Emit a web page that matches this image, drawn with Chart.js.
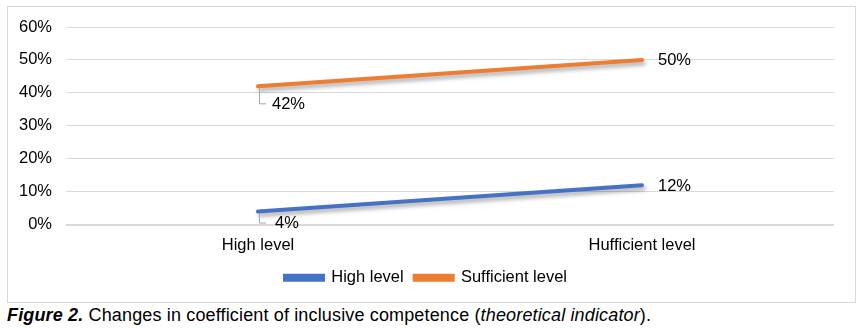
<!DOCTYPE html>
<html lang="en">
<head>
    <meta charset="UTF-8">
    <title>Inclusive competence</title>
    <script src="https://cdn.jsdelivr.net/npm/chart.js"></script>
    <style>
        body {
            margin: 0;
            background: #fff;
            width: 864px;
            height: 332px;
            position: relative;
            overflow: hidden;
        }
        .chart-box {
            position: absolute;
            left: 7px;
            top: 6px;
            width: 849px;
            height: 297px;
            border: 1px solid #d9d9d9;
            box-sizing: border-box;
        }
        .caption {
            position: absolute;
            left: 7px;
            top: 305px;
            font-family: 'Liberation Sans Narrow', 'Arial Narrow', 'Liberation Sans', Arial, sans-serif;
            font-size: 18px;
            letter-spacing: 0.15px;
            color: #000;
            white-space: nowrap;
        }
    </style>
</head>
<body>
    <div class="chart-box">
        <canvas id="lineChart" width="847" height="295"></canvas>
    </div>
    <div class="caption"><b><i>Figure 2.</i></b> Changes in coefficient of inclusive competence (<i>theoretical indicator</i>).</div>
    <script>
        const categories = ['High level', 'Hufficient level'];
        const highLevel = [4, 12];
        const sufficientLevel = [42, 50];
        const yTicks = [0, 10, 20, 30, 40, 50, 60];

        const FONT = "'Liberation Sans', Arial, sans-serif";
        const FSIZE = 16.5;

        // shadow under the lines
        const lineShadow = {
            id: 'lineShadow',
            beforeDatasetDraw(chart) {
                const ctx = chart.ctx;
                ctx.save();
                ctx.shadowColor = 'rgba(0,0,0,0.35)';
                ctx.shadowBlur = 4;
                ctx.shadowOffsetX = 2;
                ctx.shadowOffsetY = 3;
            },
            afterDatasetDraw(chart) {
                chart.ctx.restore();
            }
        };

        // data labels: first point below-right with leader, last point to the right
        const pointLabels = {
            id: 'pointLabels',
            afterDatasetsDraw(chart) {
                const ctx = chart.ctx;
                ctx.save();
                ctx.font = FSIZE + 'px ' + FONT;
                ctx.fillStyle = '#000';
                ctx.textBaseline = 'middle';
                ctx.textAlign = 'left';
                chart.data.datasets.forEach((ds, i) => {
                    const meta = chart.getDatasetMeta(i);
                    meta.data.forEach((pt, j) => {
                        const txt = ds.data[j] + '%';
                        if (j === 0) {
                            const dy = i === 0 ? 11 : 17;
                            ctx.strokeStyle = '#a6a6a6';
                            ctx.lineWidth = 1;
                            ctx.beginPath();
                            ctx.moveTo(pt.x + 1.5, pt.y + 2);
                            ctx.lineTo(pt.x + 1.5, pt.y + dy + 0.5);
                            ctx.lineTo(pt.x + 8, pt.y + dy + 0.5);
                            ctx.stroke();
                            ctx.fillText(txt, pt.x + (i === 0 ? 17 : 14), pt.y + dy + 1);
                        } else {
                            ctx.fillText(txt, pt.x + 16, pt.y + 1);
                        }
                    });
                });
                ctx.restore();
            }
        };

        new Chart(document.getElementById('lineChart'), {
            type: 'line',
            data: {
                labels: categories,
                datasets: [{
                    label: 'High level',
                    data: highLevel,
                    borderColor: '#4472C4',
                    backgroundColor: '#4472C4',
                    borderWidth: 4,
                    borderCapStyle: 'round',
                    pointRadius: 0
                }, {
                    label: 'Sufficient level',
                    data: sufficientLevel,
                    borderColor: '#ED7D31',
                    backgroundColor: '#ED7D31',
                    borderWidth: 4,
                    borderCapStyle: 'round',
                    pointRadius: 0
                }]
            },
            options: {
                responsive: false,
                animation: false,
                layout: {
                    padding: { left: 10, right: 21, top: 20, bottom: 6 }
                },
                plugins: {
                    tooltip: { enabled: false },
                    legend: {
                        position: 'bottom',
                        labels: {
                            boxWidth: 38,
                            boxHeight: 4,
                            padding: 11,
                            color: '#000',
                            font: { family: FONT, size: FSIZE }
                        }
                    }
                },
                scales: {
                    x: {
                        offset: true,
                        grid: { display: false },
                        border: { display: false },
                        ticks: {
                            padding: 3,
                            color: '#000',
                            font: { family: FONT, size: FSIZE }
                        }
                    },
                    y: {
                        min: 0,
                        max: 60,
                        afterFit(scale) {
                            scale.width = 48;
                            scale.paddingTop = 0;
                            scale.paddingBottom = 0;
                        },
                        afterBuildTicks(scale) {
                            scale.ticks = yTicks.map(v => ({ value: v }));
                        },
                        border: { display: false },
                        grid: {
                            color: '#d9d9d9',
                            lineWidth: c => (c.tick && c.tick.value === 0 ? 2 : 1),
                            drawTicks: false
                        },
                        ticks: {
                            padding: 14,
                            color: '#000',
                            font: { family: FONT, size: FSIZE },
                            callback: v => v + '%'
                        }
                    }
                }
            },
            plugins: [lineShadow, pointLabels]
        });
    </script>
</body>
</html>
